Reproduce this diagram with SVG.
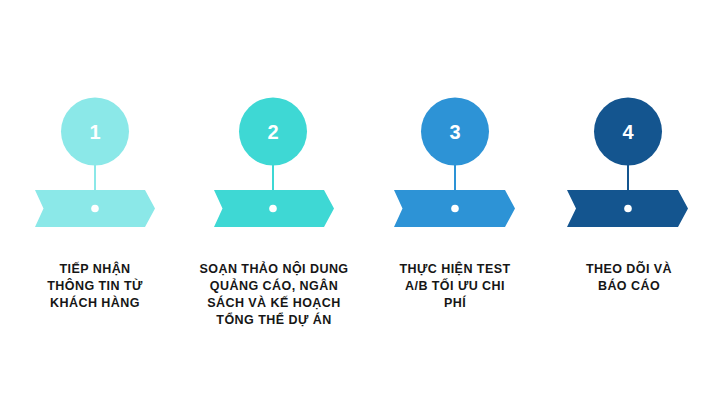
<svg xmlns="http://www.w3.org/2000/svg" width="720" height="405" viewBox="0 0 720 405">
<style>
.num{font-family:"Liberation Sans",Arial,sans-serif;font-weight:bold;font-size:20px;fill:#ffffff;text-anchor:middle}
.lbl{font-family:"Liberation Sans",Arial,sans-serif;font-weight:bold;font-size:12.5px;fill:#161616;text-anchor:middle;letter-spacing:0.45px}
.dot{fill:#ffffff}
.stem{stroke-width:2}
</style>
<rect width="720" height="405" fill="#ffffff"/>
<g id="connectors">
<line class="stem" x1="95" y1="165" x2="95" y2="191" stroke="#8BE8E8"/>
<line class="stem" x1="273" y1="165" x2="273" y2="191" stroke="#3ED8D4"/>
<line class="stem" x1="455" y1="165" x2="455" y2="191" stroke="#2D93D6"/>
<line class="stem" x1="628" y1="165" x2="628" y2="191" stroke="#14558F"/>
</g>
<g id="node1">
<circle cx="95" cy="131.5" r="34" fill="#8BE8E8"/>
<text class="num" x="95" y="138.5">1</text>
<polygon points="35,190 145,190 155,208.5 145,227 35,227 43.5,208.5" fill="#8BE8E8"/>
<circle class="dot" cx="95" cy="208.5" r="3.8"/>
<text class="lbl" x="95" y="272.5">TIẾP NHẬN</text>
<text class="lbl" x="95" y="289.5">THÔNG TIN TỪ</text>
<text class="lbl" x="95" y="306.5">KHÁCH HÀNG</text>
</g>
<g id="node2">
<circle cx="273" cy="131.5" r="34" fill="#3ED8D4"/>
<text class="num" x="273" y="138.5">2</text>
<polygon points="214,190 324,190 334,208.5 324,227 214,227 222.5,208.5" fill="#3ED8D4"/>
<circle class="dot" cx="273" cy="208.5" r="3.8"/>
<text class="lbl" x="274" y="272.5">SOẠN THẢO NỘI DUNG</text>
<text class="lbl" x="274" y="289.5">QUẢNG CÁO, NGÂN</text>
<text class="lbl" x="274" y="306.5">SÁCH VÀ KẾ HOẠCH</text>
<text class="lbl" x="274" y="323.5">TỔNG THỂ DỰ ÁN</text>
</g>
<g id="node3">
<circle cx="455" cy="131.5" r="34" fill="#2D93D6"/>
<text class="num" x="455" y="138.5">3</text>
<polygon points="394,190 505,190 515,208.5 505,227 394,227 402.5,208.5" fill="#2D93D6"/>
<circle class="dot" cx="455" cy="208.5" r="3.8"/>
<text class="lbl" x="455" y="272.5">THỰC HIỆN TEST</text>
<text class="lbl" x="455" y="289.5">A/B TỐI ƯU CHI</text>
<text class="lbl" x="455" y="306.5">PHÍ</text>
</g>
<g id="node4">
<circle cx="628" cy="131.5" r="34" fill="#14558F"/>
<text class="num" x="628" y="138.5">4</text>
<polygon points="567,190 678,190 688,208.5 678,227 567,227 576,208.5" fill="#14558F"/>
<circle class="dot" cx="628" cy="208.5" r="3.8"/>
<text class="lbl" x="629" y="272.5">THEO DÕI VÀ</text>
<text class="lbl" x="629" y="289.5">BÁO CÁO</text>
</g>
</svg>
